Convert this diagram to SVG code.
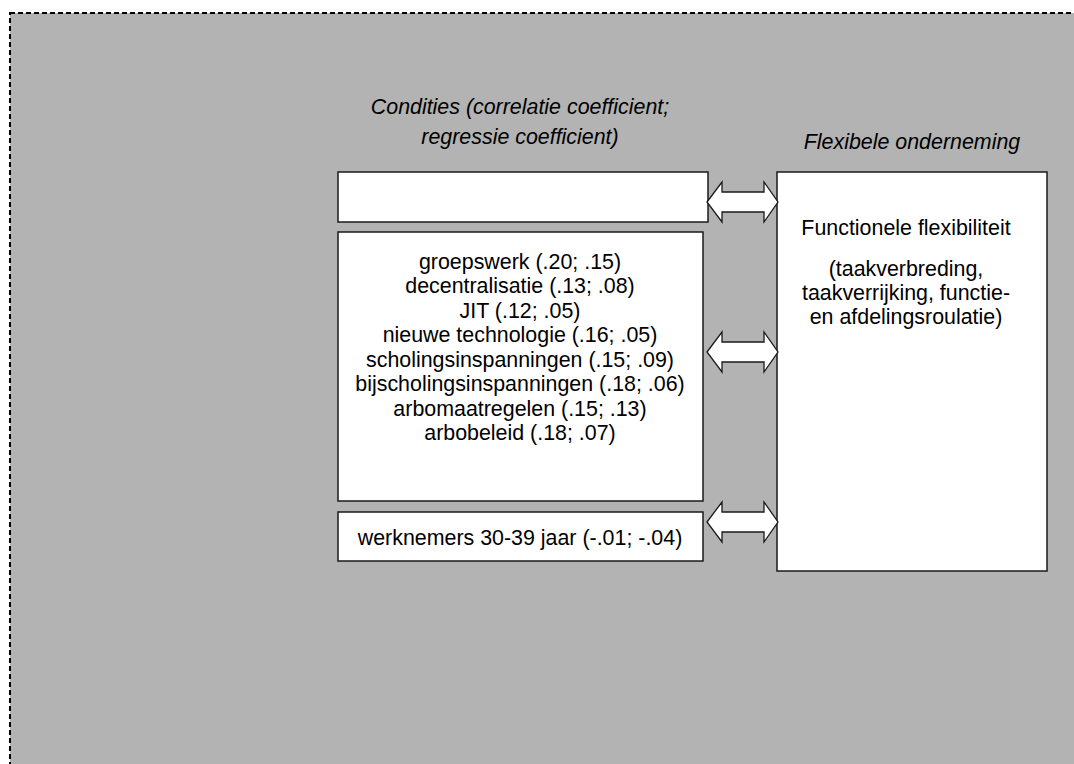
<svg xmlns="http://www.w3.org/2000/svg" width="1074" height="764" viewBox="0 0 1074 764">
<style>
.box{fill:#fff;stroke:#1a1a1a;stroke-width:1.5}
.arr{fill:#fff;stroke:#1a1a1a;stroke-width:1.3;stroke-linejoin:miter}
text{font-family:"Liberation Sans",Arial,sans-serif;font-size:21.4px;fill:#000;text-anchor:middle}
.it{font-style:italic}
</style>
<rect x="0" y="0" width="1074" height="764" fill="#fff"/>
<rect x="10" y="13" width="1075" height="770" fill="#b3b3b3" stroke="#000" stroke-width="2" stroke-dasharray="5,3"/>
<g id="header-left"><text class="it" x="520" y="113.5">Condities (correlatie coefficient;</text><text class="it" x="520" y="143.5">regressie coefficient)</text></g>
<g id="header-right"><text class="it" x="912" y="148.5">Flexibele onderneming</text></g>
<g id="box-empty"><rect class="box" x="338" y="172" width="370" height="50"/></g>
<g id="box-conditions"><rect class="box" x="338" y="232" width="365" height="269"/>
<text x="520" y="268.5">groepswerk (.20; .15)</text>
<text x="520" y="293">decentralisatie (.13; .08)</text>
<text x="520" y="317.5">JIT (.12; .05)</text>
<text x="520" y="342">nieuwe technologie (.16; .05)</text>
<text x="520" y="366.5">scholingsinspanningen (.15; .09)</text>
<text x="520" y="391">bijscholingsinspanningen (.18; .06)</text>
<text x="520" y="415.5">arbomaatregelen (.15; .13)</text>
<text x="520" y="440">arbobeleid (.18; .07)</text></g>
<g id="box-workers"><rect class="box" x="338" y="512" width="365" height="49"/><text x="520" y="544.5">werknemers 30-39 jaar (-.01; -.04)</text></g>
<g id="box-flex"><rect class="box" x="777" y="172" width="270" height="399"/>
<text x="906" y="234.5">Functionele flexibiliteit</text>
<text x="906" y="275.5">(taakverbreding,</text>
<text x="906" y="299.8">taakverrijking, functie-</text>
<text x="906" y="324.1">en afdelingsroulatie)</text></g>
<g id="connectors">
<polygon class="arr" points="707,202 722,182 722,192 764,192 764,182 778,202 764,222 764,212 722,212 722,222"/>
<polygon class="arr" points="707,352 722,332 722,342 764,342 764,332 778,352 764,372 764,362 722,362 722,372"/>
<polygon class="arr" points="707,522 722,502 722,512 764,512 764,502 778,522 764,542 764,532 722,532 722,542"/>
</g>
</svg>
